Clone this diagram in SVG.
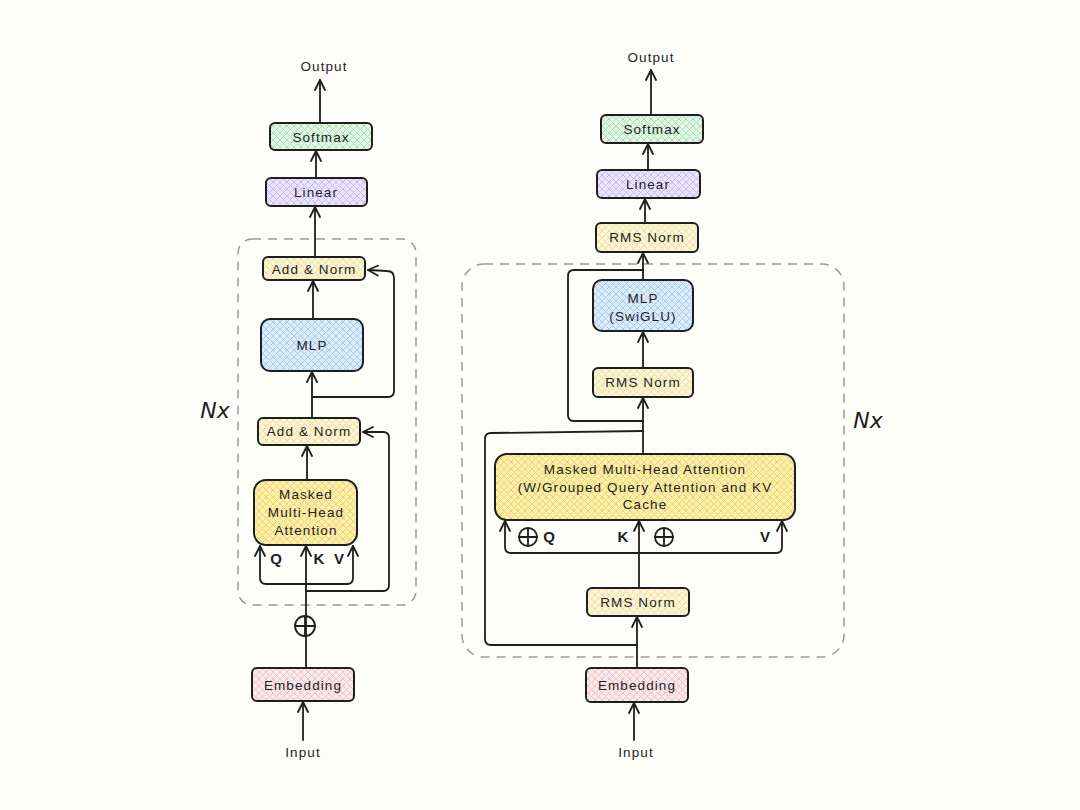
<svg xmlns="http://www.w3.org/2000/svg" width="1080" height="810" viewBox="0 0 1080 810">
<defs>
<style>
.box{stroke:#1e1e1e;stroke-width:2}
.t{font-family:"Liberation Sans","DejaVu Sans",sans-serif;font-size:13.5px;fill:#1e1e1e;text-anchor:middle;dominant-baseline:central;letter-spacing:1.1px}
.q{font-family:"Liberation Sans","DejaVu Sans",sans-serif;font-size:15px;font-weight:bold;fill:#1e1e1e;text-anchor:middle;dominant-baseline:central}
.nx{font-family:"DejaVu Sans",sans-serif;font-size:22px;font-style:italic;fill:#1e1e1e;text-anchor:middle;dominant-baseline:central}
.c{fill:none;stroke:#1e1e1e;stroke-width:1.8;stroke-linecap:round;stroke-linejoin:round}
.a{marker-end:url(#ah)}
.dash{fill:none;stroke:#9a9a9a;stroke-width:1.5;stroke-dasharray:9 7}
</style>
<marker id="ah" viewBox="0 0 12 12" refX="11" refY="6" markerWidth="12" markerHeight="12" markerUnits="userSpaceOnUse" orient="auto">
<path d="M1,1 L11,6 L1,11" fill="none" stroke="#1e1e1e" stroke-width="1.8" stroke-linecap="round" stroke-linejoin="round"/>
</marker>
<pattern id="pg" patternUnits="userSpaceOnUse" width="7" height="7"><rect width="7" height="7" fill="#e4f6e7"/><path d="M0,0 L7,7 M7,0 L0,7" stroke="#a7e3b2" stroke-width="1"/></pattern>
<pattern id="pp" patternUnits="userSpaceOnUse" width="7" height="7"><rect width="7" height="7" fill="#ebe5fb"/><path d="M0,0 L7,7 M7,0 L0,7" stroke="#c9baf3" stroke-width="1"/></pattern>
<pattern id="py" patternUnits="userSpaceOnUse" width="7" height="7"><rect width="7" height="7" fill="#fbf5d8"/><path d="M0,0 L7,7 M7,0 L0,7" stroke="#efe0a2" stroke-width="1"/></pattern>
<pattern id="pY" patternUnits="userSpaceOnUse" width="7" height="7"><rect width="7" height="7" fill="#fbefb0"/><path d="M0,0 L7,7 M7,0 L0,7" stroke="#f0d468" stroke-width="1"/></pattern>
<pattern id="pb" patternUnits="userSpaceOnUse" width="7" height="7"><rect width="7" height="7" fill="#dcebf8"/><path d="M0,0 L7,7 M7,0 L0,7" stroke="#a6ccef" stroke-width="1"/></pattern>
<pattern id="pk" patternUnits="userSpaceOnUse" width="7" height="7"><rect width="7" height="7" fill="#f9e8ec"/><path d="M0,0 L7,7 M7,0 L0,7" stroke="#efc2cc" stroke-width="1"/></pattern>
</defs>
<rect width="1080" height="810" fill="#fdfdf9"/>

<!-- containers -->
<rect class="dash" x="238" y="239" width="178" height="366" rx="14"/>
<rect class="dash" x="462" y="264" width="382" height="393" rx="22"/>
<text class="nx" x="215" y="410">Nx</text>
<text class="nx" x="868" y="420">Nx</text>

<!-- connectors -->
<g id="connectors">
<!-- left -->
<path class="c a" d="M303,740 L303,702"/>
<path class="c a" d="M306,668 L306,546"/>
<path class="c a" d="M306,584 L266,584 Q260,584 260,578 L260,546"/>
<path class="c a" d="M306,584 L347,584 Q353,584 353,578 L353,546"/>
<path class="c a" d="M306,591 L383,591 Q389,591 389,585 L389,438 Q389,432 383,432 L363,432"/>
<path class="c a" d="M307,480 L307,446"/>
<path class="c a" d="M312,418 L312,372"/>
<path class="c a" d="M313,397 L388,397 Q394,397 394,391 L394,278 Q394,271 387,271 L368,270"/>
<path class="c a" d="M313,319 L313,281"/>
<path class="c a" d="M315,257 L315,207"/>
<path class="c a" d="M316,178 L316,151"/>
<path class="c a" d="M320,123 L320,80"/>
<!-- right -->
<path class="c a" d="M634,740 L634,703"/>
<path class="c a" d="M637,668 L637,617"/>
<path class="c" d="M637,645 L491,645 Q485,645 485,639 L485,439 Q485,433 491,433 L643,431"/>
<path class="c a" d="M639,588 L639,521"/>
<path class="c a" d="M639,553 L511,553 Q505,553 505,547 L505,521"/>
<path class="c a" d="M639,553 L776,553 Q782,553 782,547 L782,521"/>
<path class="c a" d="M643,454 L643,398"/>
<path class="c a" d="M643,421 L574,421 Q568,421 568,415 L568,276 Q568,270 574,270 L643,270 L643,253"/>
<path class="c" d="M643,280 L643,270"/>
<path class="c a" d="M643,368 L643,332"/>
<path class="c a" d="M645,223 L645,199"/>
<path class="c a" d="M648,170 L648,144"/>
<path class="c a" d="M651,115 L651,70"/>
</g>

<!-- adders -->
<g id="add-left" class="c"><circle cx="305" cy="626" r="10"/><path d="M295,626 L315,626 M305,616 L305,636"/></g>
<g id="add-q" class="c"><circle cx="528" cy="537" r="9"/><path d="M519,537 L537,537 M528,528 L528,546"/></g>
<g id="add-k" class="c"><circle cx="664" cy="537" r="9"/><path d="M655,537 L673,537 M664,528 L664,546"/></g>

<!-- left nodes -->
<g id="l-softmax"><rect class="box" x="270" y="123" width="102" height="27" rx="5" fill="url(#pg)"/><text class="t" x="321" y="137">Softmax</text></g>
<g id="l-linear"><rect class="box" x="266" y="178" width="101" height="28" rx="5" fill="url(#pp)"/><text class="t" x="316" y="192">Linear</text></g>
<g id="l-addnorm2"><rect class="box" x="263" y="257" width="102" height="23" rx="5" fill="url(#py)"/><text class="t" x="314" y="269">Add &amp; Norm</text></g>
<g id="l-mlp"><rect class="box" x="261" y="319" width="102" height="52" rx="9" fill="url(#pb)"/><text class="t" x="312" y="345">MLP</text></g>
<g id="l-addnorm1"><rect class="box" x="258" y="418" width="102" height="27" rx="5" fill="url(#py)"/><text class="t" x="309" y="431">Add &amp; Norm</text></g>
<g id="l-attn"><rect class="box" x="254" y="480" width="103" height="65" rx="12" fill="url(#pY)"/><text class="t" x="306" y="494">Masked</text><text class="t" x="306" y="512">Multi-Head</text><text class="t" x="306" y="530">Attention</text></g>
<g id="l-qkv"><text class="q" x="276" y="558">Q</text><text class="q" x="319" y="558">K</text><text class="q" x="339" y="558">V</text></g>
<g id="l-embedding"><rect class="box" x="252" y="668" width="102" height="33" rx="5" fill="url(#pk)"/><text class="t" x="303" y="685">Embedding</text></g>
<g id="l-output"><text class="t" x="324" y="66">Output</text></g>
<g id="l-input"><text class="t" x="303" y="752">Input</text></g>

<!-- right nodes -->
<g id="r-softmax"><rect class="box" x="601" y="115" width="102" height="28" rx="5" fill="url(#pg)"/><text class="t" x="652" y="129">Softmax</text></g>
<g id="r-linear"><rect class="box" x="597" y="170" width="103" height="28" rx="5" fill="url(#pp)"/><text class="t" x="648" y="184">Linear</text></g>
<g id="r-rmsnorm3"><rect class="box" x="596" y="223" width="102" height="29" rx="5" fill="url(#py)"/><text class="t" x="647" y="237">RMS Norm</text></g>
<g id="r-mlp"><rect class="box" x="593" y="280" width="100" height="51" rx="9" fill="url(#pb)"/><text class="t" x="643" y="298">MLP</text><text class="t" x="643" y="316">(SwiGLU)</text></g>
<g id="r-rmsnorm2"><rect class="box" x="593" y="368" width="100" height="29" rx="5" fill="url(#py)"/><text class="t" x="643" y="382">RMS Norm</text></g>
<g id="r-attn"><rect class="box" x="495" y="454" width="300" height="66" rx="12" fill="url(#pY)"/><text class="t" x="645" y="469">Masked Multi-Head Attention</text><text class="t" x="645" y="487">(W/Grouped Query Attention and KV</text><text class="t" x="645" y="504">Cache</text></g>
<g id="r-qkv"><text class="q" x="549" y="536">Q</text><text class="q" x="623" y="536">K</text><text class="q" x="765" y="536">V</text></g>
<g id="r-rmsnorm1"><rect class="box" x="587" y="588" width="102" height="28" rx="5" fill="url(#py)"/><text class="t" x="638" y="602">RMS Norm</text></g>
<g id="r-embedding"><rect class="box" x="586" y="668" width="102" height="34" rx="5" fill="url(#pk)"/><text class="t" x="637" y="685">Embedding</text></g>
<g id="r-output"><text class="t" x="651" y="57">Output</text></g>
<g id="r-input"><text class="t" x="636" y="752">Input</text></g>
</svg>
